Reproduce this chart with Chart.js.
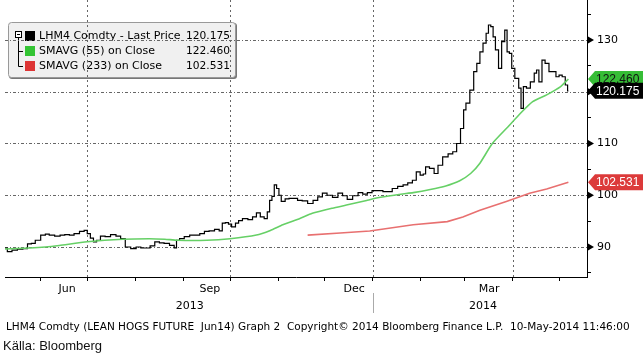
<!DOCTYPE html>
<html><head><meta charset="utf-8">
<script src="https://cdn.jsdelivr.net/npm/chart.js@4.4.0/dist/chart.umd.min.js"></script>
<style>html,body{margin:0;padding:0;background:#fff;}#wrap{position:relative;width:643px;height:356px;}</style>
</head><body><div id="wrap"><canvas id="c" width="643" height="356"></canvas></div>
<script>
// x values are days since 2013-05-09
const priceDays = [0,3,6,10,13,16,18,21,25,27,30,34,37,40,43,46,50,52,54,56,58,60,63,66,70,73,76,79,83,86,89,92,95,98,101,104,108,110,111,114,117,121,124,127,130,133,137,139,141,143,145,147,150,151,155,158,161,163,166,168,170,171,173,174,176,177,179,182,184,187,190,193,197,200,203,206,209,213,216,219,222,226,229,232,235,238,242,245,248,251,255,258,261,264,266,269,270,272,275,278,280,284,287,290,292,295,296,298,301,303,305,307,309,311,312,314,315,317,319,321,323,324,326,327,330,332,333,335,337,340,342,343,345,347,349,352,354,356,358,360,362,363];
const priceValues = [89.8,89.1,89.4,89.6,89.7,90.6,90.7,91.3,92.3,92.5,92.3,92.1,92.3,92.4,92.3,92.6,93.0,93.2,92.6,91.7,91.0,91.3,92.1,92.0,92.4,92.1,91.6,90.0,89.7,90.0,89.8,89.8,90.2,91.0,90.8,90.7,90.3,89.8,91.3,91.6,92.0,92.3,92.3,92.6,93.0,93.1,93.4,93.1,94.6,94.7,94.4,93.9,94.6,95.1,95.5,95.3,95.8,96.6,95.8,95.5,96.8,99.0,99.8,102.0,101.3,100.0,98.8,99.3,99.4,99.4,99.0,98.9,98.4,99.0,99.7,100.4,100.0,99.6,100.4,99.9,99.2,99.9,100.5,100.2,100.5,100.9,100.9,100.7,100.7,101.3,101.7,102.0,102.4,102.9,104.5,103.9,104.1,105.5,105.2,104.2,105.8,107.4,108.0,108.4,110.0,112.9,116.5,117.8,120.3,123.9,125.5,127.7,129.4,131.3,132.9,132.6,130.6,128.1,124.5,129.7,131.9,127.7,127.4,124.5,122.6,120.7,116.8,121.0,120.7,121.9,123.6,124.2,121.9,126.1,125.5,123.9,123.9,122.9,123.2,122.9,121.3,120.175];
const sma55Days = [0,16,26,35,53,76,93,103,111,130,145,162,171,179,190,198,211,220,233,242,255,263,274,284,293,300,306,314,324,332,340,349,358,363];
const sma55Values = [89.6,89.8,90.0,90.3,91.0,91.5,91.6,91.5,91.3,91.3,91.6,92.3,93.2,94.3,95.5,96.5,97.5,98.1,99.0,99.6,100.2,100.5,101.1,101.8,102.8,104.2,106.2,110.0,113.2,115.8,118.1,119.4,121.0,122.46];
const sma233Days = [195,216,235,263,285,295,306,323,338,349,363];
const sma233Values = [92.3,92.7,93.1,94.3,94.9,95.8,97.1,98.8,100.4,101.2,102.531];

const monthTickDays = [23,53,84,115,145,176,206,237,268,296,327,357];
const quarterGridDays = [53,145,237,327];
const monthLabels = ['Jun','Sep','Dec','Mar'];
const monthLabelDays = [40,132,225,312];
const yearLabels = ['2013','2014'];
const yearLabelDays = [119,308];
const yearSeparatorDay = 237;
const yTickValues = [85,90,95,100,105,110,115,120,125,130,135];
const yLabelled = [90,100,110,130];
const yGridValues = [90,100,110,120,130];
const legendNames = ['LHM4 Comdty - Last Price','SMAVG (55) on Close','SMAVG (233) on Close'];
const lastValues = [120.175, 122.460, 102.531];
const footerText = 'LHM4 Comdty (LEAN HOGS FUTURE  Jun14) Graph 2  Copyright\u00a9 2014 Bloomberg Finance L.P.  10-May-2014 11:46:00';
const sourceText = 'Källa: Bloomberg';

const toXY = (xs, ys) => xs.map((x, i) => ({x, y: ys[i]}));
const FONT = '"DejaVu Sans", sans-serif';

const decor = {
  id: 'decor',
  beforeDatasetsDraw(chart) {
    const ctx = chart.ctx, xs = chart.scales.x, ys = chart.scales.y, a = chart.chartArea;
    ctx.save();
    // legend box
    ctx.fillStyle = '#777';
    roundRect(ctx, 9, 23, 228, 56, 3); ctx.fill();
    ctx.fillStyle = '#f0f0f0'; ctx.strokeStyle = '#999'; ctx.lineWidth = 1;
    roundRect(ctx, 8.5, 22.5, 227, 55, 3); ctx.fill(); ctx.stroke();
    ctx.strokeStyle = '#000';
    ctx.fillStyle = '#fff';
    ctx.fillRect(15.5, 31.5, 6, 6); ctx.strokeRect(15.5, 31.5, 6, 6);
    ctx.beginPath(); ctx.moveTo(17, 34.5); ctx.lineTo(20, 34.5);
    ctx.moveTo(18.5, 38); ctx.lineTo(18.5, 66.5); ctx.lineTo(23, 66.5);
    ctx.moveTo(18.5, 51.5); ctx.lineTo(23, 51.5); ctx.stroke();
    const sq = ['#000', '#33c433', '#dd3535'];
    ctx.font = '11px ' + FONT; ctx.textBaseline = 'middle';
    for (let i = 0; i < 3; i++) {
      const cy = 36 + i * 15;
      ctx.fillStyle = sq[i]; ctx.fillRect(25, cy - 5, 10, 10);
      ctx.fillStyle = '#000'; ctx.textAlign = 'left';
      ctx.fillText(legendNames[i], 39, cy, 145);
      ctx.textAlign = 'right';
      ctx.fillText(lastValues[i].toFixed(3), 230, cy, 44);
    }
    // grid lines
    ctx.strokeStyle = '#666'; ctx.lineWidth = 1;
    ctx.setLineDash([3, 2, 1, 2]);
    yGridValues.forEach(v => {
      const y = Math.round(ys.getPixelForValue(v)) + 0.5;
      ctx.beginPath(); ctx.moveTo(a.left, y); ctx.lineTo(a.right, y); ctx.stroke();
    });
    ctx.setLineDash([2, 3]);
    quarterGridDays.forEach(d => {
      const x = Math.round(xs.getPixelForValue(d)) + 0.5;
      ctx.beginPath(); ctx.moveTo(x, a.top); ctx.lineTo(x, a.bottom); ctx.stroke();
    });
    ctx.restore();
  },
  afterDatasetsDraw(chart) {
    const ctx = chart.ctx, xs = chart.scales.x, ys = chart.scales.y, a = chart.chartArea;
    ctx.save();
    // arrows on y axis
    ctx.fillStyle = '#000';
    yLabelled.concat([120]).forEach(v => {
      const y = ys.getPixelForValue(v);
      ctx.beginPath(); ctx.moveTo(a.right + 1, y - 3.5); ctx.lineTo(a.right + 7, y); ctx.lineTo(a.right + 1, y + 3.5); ctx.closePath(); ctx.fill();
    });
    // value boxes
    const boxes = [[lastValues[1], '#36bd36', '#111'], [lastValues[2], '#dc3a3a', '#fff'], [lastValues[0], '#000', '#fff']];
    ctx.font = '12px "Liberation Sans", Arial, sans-serif'; ctx.textBaseline = 'middle'; ctx.textAlign = 'left';
    boxes.forEach(([v, bg, fg]) => {
      const cy = ys.getPixelForValue(v);
      ctx.fillStyle = bg;
      ctx.beginPath(); ctx.moveTo(a.right + 1, cy); ctx.lineTo(a.right + 8, cy - 8); ctx.lineTo(643, cy - 8); ctx.lineTo(643, cy + 8); ctx.lineTo(a.right + 8, cy + 8); ctx.closePath(); ctx.fill();
      ctx.fillStyle = fg; ctx.fillText(v.toFixed(3), 596, cy + 0.5);
    });
    // x labels
    ctx.fillStyle = '#000'; ctx.textAlign = 'center';
    ctx.font = '11px ' + FONT;
    monthLabels.forEach((t, i) => ctx.fillText(t, xs.getPixelForValue(monthLabelDays[i]), 289));
    yearLabels.forEach((t, i) => ctx.fillText(t, xs.getPixelForValue(yearLabelDays[i]), 306));
    ctx.strokeStyle = '#aaa'; ctx.lineWidth = 1;
    const sx = Math.round(xs.getPixelForValue(yearSeparatorDay)) + 0.5;
    ctx.beginPath(); ctx.moveTo(sx, 293); ctx.lineTo(sx, 313); ctx.stroke();
    ctx.textAlign = 'left';
    ctx.font = '10.5px ' + FONT;
    ctx.fillText(footerText, 6, 327, 634);
    ctx.font = '13px "Liberation Sans", Arial, sans-serif';
    ctx.fillStyle = '#111';
    ctx.fillText(sourceText, 3, 346);
    ctx.restore();
  }
};
function roundRect(ctx, x, y, w, h, r) {
  ctx.beginPath(); ctx.moveTo(x + r, y); ctx.lineTo(x + w - r, y); ctx.quadraticCurveTo(x + w, y, x + w, y + r);
  ctx.lineTo(x + w, y + h - r); ctx.quadraticCurveTo(x + w, y + h, x + w - r, y + h);
  ctx.lineTo(x + r, y + h); ctx.quadraticCurveTo(x, y + h, x, y + h - r);
  ctx.lineTo(x, y + r); ctx.quadraticCurveTo(x, y, x + r, y); ctx.closePath();
}

new Chart(document.getElementById('c'), {
  type: 'line',
  data: {
    datasets: [
      {label: legendNames[2], data: toXY(sma233Days, sma233Values), borderColor: '#e87070', borderWidth: 1.6, pointRadius: 0, tension: 0},
      {label: legendNames[1], data: toXY(sma55Days, sma55Values), borderColor: '#66d066', borderWidth: 1.6, pointRadius: 0, tension: 0.2},
      {label: legendNames[0], data: toXY(priceDays, priceValues), borderColor: '#000', borderWidth: 1.2, pointRadius: 0, stepped: 'middle'}
    ]
  },
  options: {
    responsive: false, animation: false, devicePixelRatio: 1,
    layout: {padding: {left: 5, right: 0, top: 0, bottom: 0}},
    plugins: {legend: {display: false}, tooltip: {enabled: false}},
    scales: {
      x: {
        type: 'linear', min: 0, max: 375, position: 'bottom',
        afterBuildTicks: s => { s.ticks = monthTickDays.map(v => ({value: v})); },
        afterFit: s => { s.height = 79; s.paddingLeft = 0; s.paddingRight = 0; },
        ticks: {callback: () => '', autoSkip: false, maxRotation: 0},
        grid: {drawOnChartArea: false, drawTicks: true, tickLength: 4, tickColor: '#000'},
        border: {display: true, color: '#000', width: 1}
      },
      y: {
        type: 'linear', position: 'right', min: 84.2, max: 137.73,
        afterBuildTicks: s => { s.ticks = yTickValues.map(v => ({value: v})); },
        afterFit: s => { s.width = 56; s.paddingTop = 0; s.paddingBottom = 0; },
        ticks: {callback: v => yLabelled.includes(v) ? String(v) : '', autoSkip: false, color: '#000', padding: 6, font: {family: 'DejaVu Sans', size: 11}},
        grid: {drawOnChartArea: false, drawTicks: true, tickLength: 4, tickColor: '#000'},
        border: {display: true, color: '#000', width: 1}
      }
    }
  },
  plugins: [decor]
});
</script></body></html>
